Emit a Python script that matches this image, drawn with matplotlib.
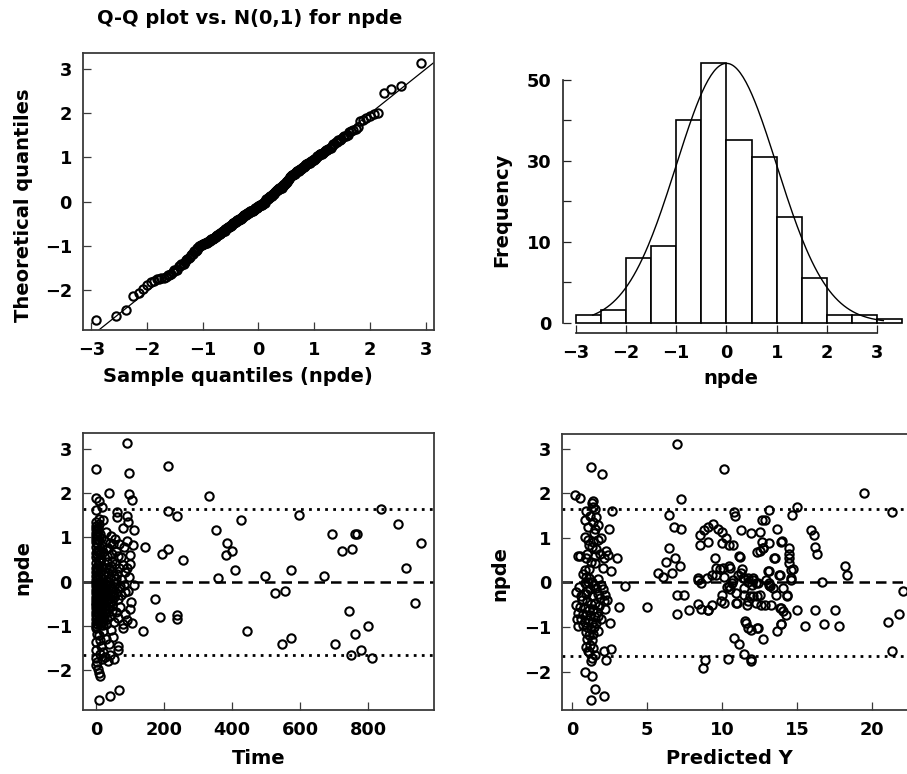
import numpy as np
import matplotlib
matplotlib.use("Agg")
import matplotlib.pyplot as plt
from statistics import NormalDist

plt.rcParams['font.family'] = ['DejaVu Sans']
W_BOLD = 'bold'
plt.rcParams['font.weight'] = W_BOLD

# ---------------- data ----------------
# (time, npde) for every observation
time_obs = [
    # sparse / readable points
    (92, 3.12), (97, 2.46), (213, 2.60), (0, 2.54), (37, 2.01), (97, 1.98), (107, 1.84),
    (333, 1.93), (61, 1.58), (92, 1.49), (213, 1.59), (239, 1.49), (426, 1.40), (598, 1.51),
    (838, 1.64), (887, 1.31), (112, 1.17), (352, 1.17), (693, 1.07), (762, 1.07), (768, 1.07),
    (956, 0.88), (144, 0.78), (193, 0.63), (213, 0.73), (257, 0.49), (384, 0.88), (382, 0.60),
    (401, 0.69), (409, 0.26), (725, 0.69), (752, 0.73), (573, 0.26), (913, 0.32), (359, 0.08),
    (497, 0.12), (671, 0.12), (527, -0.26), (555, -0.22), (175, -0.40), (939, -0.49),
    (743, -0.65), (188, -0.80), (237, -0.75), (237, -0.84), (138, -1.12), (445, -1.12),
    (799, -0.99), (762, -1.17), (546, -1.41), (573, -1.27), (704, -1.41), (750, -1.66),
    (779, -1.54), (811, -1.71), (10, -2.66), (42, -2.57), (69, -2.44),
    # early-time cluster
    (0, 1.88), (10, 1.83), (18, 1.68), (0, 1.62), (8, -2.05), (12, -2.12),
    (0, 1.02), (0, 1.10), (0, 1.18), (0, 1.26), (0, 1.34), (3, 1.05), (3, 1.15), (5, 1.22),
    (8, 1.30), (8, 1.42), (12, 1.08), (20, 1.38), (30, 1.12), (45, 1.02), (62, 1.45),
    (80, 1.20), (95, 1.35),
    (0, 0.55), (0, 0.65), (0, 0.78), (0, 0.90), (0, 0.97), (4, 0.60), (4, 0.85), (8, 0.72),
    (10, 0.95), (14, 0.52), (18, 0.80), (22, 0.66), (26, 0.92), (32, 0.58), (36, 0.75),
    (42, 0.88), (48, 0.62), (55, 0.97), (60, 0.70), (68, 0.85), (75, 0.55), (82, 0.78),
    (90, 0.92), (100, 0.60), (110, 0.82), (2, 0.70), (6, 0.93), (12, 0.62), (16, 0.98),
    (28, 0.74), (50, 0.84), (64, 0.58),
    (0, 0.03), (0, 0.12), (0, 0.22), (0, 0.32), (0, 0.42), (5, 0.07), (5, 0.18), (5, 0.28),
    (5, 0.38), (10, 0.48), (12, 0.10), (15, 0.25), (18, 0.35), (22, 0.05), (25, 0.15),
    (28, 0.30), (32, 0.45), (35, 0.20), (40, 0.08), (44, 0.35), (48, 0.25), (52, 0.12),
    (56, 0.40), (62, 0.18), (68, 0.30), (74, 0.05), (80, 0.38), (86, 0.22), (92, 0.32),
    (100, 0.40), (98, 0.10), (2, 0.27), (8, 0.44), (20, 0.17), (30, 0.02), (38, 0.30),
    (46, 0.47), (58, 0.06),
    (0, -0.03), (0, -0.10), (0, -0.18), (0, -0.26), (0, -0.34), (0, -0.42), (0, -0.48),
    (4, -0.06), (4, -0.15), (4, -0.24), (4, -0.33), (4, -0.44),
    (9, -0.02), (9, -0.12), (9, -0.22), (9, -0.38), (9, -0.47),
    (14, -0.08), (14, -0.18), (14, -0.30), (14, -0.41),
    (19, -0.04), (19, -0.14), (19, -0.27), (19, -0.45),
    (25, -0.10), (25, -0.22), (25, -0.36), (30, -0.05), (30, -0.30), (30, -0.46),
    (36, -0.16), (36, -0.40), (42, -0.08), (42, -0.28), (48, -0.20), (48, -0.44),
    (54, -0.12), (54, -0.34), (60, -0.03), (60, -0.25), (67, -0.15),
    (75, -0.30), (82, -0.08), (95, -0.20), (102, -0.45), (113, -0.07), (40, -0.48), (72, -0.10),
    (2, -0.21), (7, -0.29), (11, -0.07), (16, -0.37), (22, -0.19), (28, -0.41), (33, -0.26),
    (45, -0.14), (51, -0.31), (64, -0.38), (86, -0.24),
    (0, -0.52), (0, -0.60), (0, -0.68), (0, -0.76), (0, -0.84), (0, -0.92), (0, -0.99),
    (4, -0.55), (4, -0.65), (4, -0.80), (4, -0.95), (9, -0.58), (9, -0.72), (9, -0.88),
    (14, -0.53), (14, -0.66), (14, -0.82), (14, -0.97), (19, -0.60), (19, -0.75), (19, -0.90),
    (25, -0.56), (25, -0.85), (30, -0.70), (30, -0.95), (36, -0.62), (42, -0.78), (48, -0.55),
    (54, -0.90), (60, -0.68), (66, -0.82), (72, -0.58), (78, -0.95), (85, -0.72), (92, -0.86),
    (100, -0.62), (105, -0.92), (2, -0.88), (7, -0.62), (11, -0.93), (17, -0.71), (22, -0.98),
    (33, -0.83), (39, -0.54), (46, -0.67),
    (0, -1.05), (0, -1.35), (8, -1.20), (15, -1.45), (22, -1.10), (30, -1.30), (38, -1.40),
    (50, -1.25), (64, -1.45), (80, -1.05), (3, -1.18), (12, -1.32), (44, -1.08),
    (0, -1.55), (0, -1.72), (0, -1.88), (6, -1.96), (12, -1.62), (18, -1.75), (26, -1.70),
    (34, -1.78), (42, -1.66), (52, -1.74), (66, -1.55), (4, -1.80), (22, -1.58),
]

# (predicted Y, npde)
pred_obs = [
    (6.97, 3.11), (10.09, 2.55), (19.47, 2.01), (7.26, 1.87), (2.68, 1.60), (2.46, 1.21),
    (3.0, 0.54), (3.12, -0.55), (3.54, -0.09), (5.0, -0.55), (5.7, 0.21), (6.04, 0.12),
    (6.48, 1.51), (6.81, 1.25), (7.26, 1.21), (6.48, 0.78), (6.26, 0.45), (6.86, 0.54),
    (6.66, 0.21), (7.21, 0.36), (6.97, -0.28), (7.43, -0.28), (6.97, -0.70), (7.8, -0.61),
    (8.36, -0.48), (8.58, -0.59), (9.03, -0.62), (8.4, 0.10), (8.36, 0.06), (8.54, 0.84),
    (8.54, 1.06), (8.8, 1.17), (9.03, 1.25), (9.42, 1.32), (9.69, 1.21), (9.98, 1.14),
    (10.24, 0.99), (10.46, 0.84), (9.54, 0.54), (9.98, 0.88), (9.58, 0.17), (9.87, 0.30),
    (10.09, 0.13), (10.46, 0.36), (9.96, -0.28), (10.09, -0.46), (10.46, -0.07), (10.68, -0.01),
    (10.8, 1.58), (11.28, 1.17), (11.13, 0.60), (11.35, 0.30), (11.46, 0.10), (10.9, -0.24),
    (10.97, -0.46), (11.46, -0.28), (11.68, -0.50), (11.9, 1.10), (12.08, 0.10), (12.23, -0.01),
    (11.86, -0.31), (12.35, -0.31), (12.57, -0.50), (12.0, -0.05), (12.52, 1.14), (12.68, 1.40),
    (12.68, 0.91), (12.35, 0.69), (12.74, 0.77), (13.12, 1.62), (13.12, 0.88), (13.05, 0.25),
    (13.12, -0.01), (13.19, -0.09), (13.45, 0.54), (13.56, -0.28), (13.67, 1.21), (13.9, 0.91),
    (13.78, 0.16), (13.9, -0.57), (14.07, -0.13), (14.34, -0.28), (14.45, 0.77), (14.45, 0.65),
    (14.45, 0.54), (14.45, 0.43), (14.6, 0.28), (14.56, 0.10), (14.67, 1.51), (14.96, 1.70),
    (14.96, -0.61), (14.26, -0.72), (13.9, -0.94), (13.63, -1.09), (12.75, -1.28), (12.35, -1.02),
    (11.9, -1.06), (11.57, -0.91), (10.8, -1.24), (11.13, -1.39), (11.42, -1.60), (11.9, -1.72),
    (10.39, -1.71), (8.84, -1.75), (8.73, -1.91), (15.55, -0.98), (16.2, -0.61), (16.8, -0.93),
    (17.5, -0.61), (17.8, -0.98), (16.66, 0.02), (15.93, 1.17), (16.1, 1.06), (16.2, 0.80),
    (16.33, 0.63), (18.2, 0.36), (18.3, 0.17), (21.3, 1.58), (21.08, -0.88), (21.79, -0.70),
    (22.04, -0.19), (21.3, -1.54), (10.3, -0.10), (10.55, -0.14), (10.75, 0.05), (11.24, 0.21),
    (11.42, -0.13), (11.7, 0.02), (11.06, 0.17), (11.39, 0.10), (11.72, 0.10), (12.05, 0.06),
    (12.39, -0.01), (12.93, 0.06), (13.15, -0.05), (13.37, -0.13), (13.15, 0.26), (13.88, 0.16),
    (14.58, 0.06), (14.7, 0.30), (13.53, 0.56), (11.17, 0.58), (10.72, 0.84), (12.71, 0.77),
    (12.49, 0.71), (9.62, 0.32), (10.06, 0.32), (10.5, 0.32), (9.95, -0.42), (10.94, -0.46),
    (11.72, -0.42), (12.05, -0.31), (12.27, -0.46), (12.55, -0.28), (12.82, -0.50), (13.26, -0.50),
    (13.82, -0.57), (14.04, -0.65), (14.33, -0.31), (11.5, -0.87), (11.72, -1.02), (12.38, -1.02),
    (13.93, -0.93), (11.94, -1.76), (9.0, 0.10), (9.3, 0.17), (8.6, -0.01), (9.29, -0.50),
    (9.06, -0.61), (10.83, 1.49), (12.82, 1.40), (13.97, 0.93), (9.06, 0.91),
    # low-prediction cluster
    (1.28, 2.60), (1.99, 2.44), (0.22, 1.97), (0.51, 1.90), (1.39, 1.83), (1.33, 1.78),
    (0.95, 1.61), (1.5, 1.64), (0.84, 1.40), (1.39, 1.36), (1.5, 1.21), (0.88, 1.03),
    (1.06, 0.95), (1.39, 0.91), (1.73, 0.95), (1.9, 1.00), (1.33, 0.80), (0.4, 0.60),
    (0.51, 0.60), (1.02, 0.63), (1.5, 0.60), (1.84, 0.63), (2.39, 0.62), (1.5, 0.43),
    (2.06, 0.32), (2.61, 0.25), (0.88, 0.28), (0.95, 0.13), (1.06, 0.02), (0.84, -0.01),
    (0.29, -0.22), (1.02, -0.20), (2.17, -0.28), (2.12, -0.41), (0.29, -0.50), (0.40, -0.68),
    (0.35, -0.83), (0.40, -0.98), (1.95, -0.83), (0.95, -1.46), (1.06, -1.54), (1.28, -1.76),
    (2.12, -1.54), (2.61, -1.50), (2.28, -1.75), (0.84, -2.02), (1.33, -2.10), (1.55, -2.39),
    (2.12, -2.56), (1.28, -2.64),
    (0.75, 0.18), (1.15, 0.10), (1.30, 0.00), (1.45, -0.05), (1.60, -0.12), (1.20, -0.15),
    (0.90, -0.25), (1.35, -0.30), (1.70, -0.25), (1.85, -0.35), (0.65, -0.40), (1.00, -0.42),
    (1.25, -0.48), (1.55, -0.45), (1.80, -0.52), (0.55, -0.55), (0.85, -0.58), (1.10, -0.62),
    (1.40, -0.60), (1.65, -0.66), (0.70, -0.70), (0.95, -0.74), (1.20, -0.72), (1.50, -0.78),
    (1.75, -0.75), (0.60, -0.82), (0.85, -0.88), (1.05, -0.85), (1.30, -0.90), (1.60, -0.92),
    (0.75, -0.96), (1.00, -1.00), (1.25, -1.04), (1.45, -1.00), (1.70, -1.08), (0.90, -1.12),
    (1.15, -1.18), (1.40, -1.15), (1.00, -1.26), (1.30, -1.30), (1.20, -1.40), (1.40, -1.48),
    (1.10, -1.56), (1.50, -1.62), (1.35, -1.70), (0.60, -0.30), (0.45, -0.10), (1.75, 0.08),
    (1.90, -0.05), (2.05, -0.15), (2.20, -0.60), (2.35, -0.40), (2.50, -0.90), (1.10, 0.30),
    (1.25, 0.45), (0.95, 0.55), (1.60, 0.75), (1.15, 0.85), (1.45, 1.10), (1.05, 1.25),
    (1.70, 1.30), (1.20, 1.50), (1.40, 1.70), (1.60, 1.48), (2.10, 0.55), (2.25, 0.70),
]

hist_edges = [-3.0, -2.5, -2.0, -1.5, -1.0, -0.5, 0.0, 0.5, 1.0, 1.5, 2.0, 2.5, 3.0, 3.5]
hist_xticks = [-3, -2, -1, 0, 1, 2, 3]
freq_ticks = [0, 10, 20, 30, 40, 50, 60]
freq_labels = ['0', '', '10', '', '30', '', '50']
npde_ticks = [-2, -1, 0, 1, 2, 3]
time_ticks = [0, 200, 400, 600, 800]
pred_ticks = [0, 5, 10, 15, 20]
pi_bound = 1.645

t_arr = np.array([p[0] for p in time_obs])
npde = np.array([p[1] for p in time_obs])
p_arr = np.array([p[0] for p in pred_obs])
p_npde = np.array([p[1] for p in pred_obs])

# ---------------- figure ----------------
W, H = 907, 774
fig = plt.figure(figsize=(W / 100, H / 100), dpi=100)

def rect(l, t, r, b):
    return [l / W, 1 - b / H, (r - l) / W, (b - t) / H]

ax_qq = fig.add_axes(rect(83, 53, 434, 330))
ax_hi = fig.add_axes(rect(562.6, 53, 915.5, 333))
ax_t = fig.add_axes(rect(83, 433, 434, 710))
ax_p = fig.add_axes(rect(562.3, 433.7, 916, 710.3))

TICK_FS = 12.8
LAB_FS = 14
frame_col = '#3a3a3a'
mk = dict(marker='o', ms=6, mfc='none', mec='black', mew=1.5, ls='none')

def style_box(ax):
    for s in ax.spines.values():
        s.set_color(frame_col)
        s.set_linewidth(1.3)
    ax.tick_params(direction='in', length=6, width=0.9, color=frame_col,
                   labelsize=TICK_FS, pad=8)
    for lab in ax.get_xticklabels() + ax.get_yticklabels():
        lab.set_fontweight(W_BOLD)

# --- Q-Q plot ---
n = len(npde)
nd = NormalDist()
theo = np.array([nd.inv_cdf((i + 0.5) / n) for i in range(n)])
samp = np.sort(npde)
ax_qq.plot(theo, samp, **mk)
q1, q3 = np.percentile(npde, [25, 75])
x1, x3 = nd.inv_cdf(0.25), nd.inv_cdf(0.75)
slope = (q3 - q1) / (x3 - x1)
ax_qq.axline((x1, q1), slope=slope, color='black', lw=0.9)
ax_qq.margins(0.04)
ax_qq.set_xticks(hist_xticks)
ax_qq.set_yticks(npde_ticks)
style_box(ax_qq)
ax_qq.set_xlabel('Sample quantiles (npde)', fontsize=LAB_FS, fontweight=W_BOLD)
ax_qq.set_ylabel('Theoretical quantiles', fontsize=LAB_FS, fontweight=W_BOLD)
ax_qq.xaxis.set_label_coords(0.44, -0.135)
ax_qq.yaxis.set_label_coords(-0.142, 0.45)
fig.text(250 / W, 1 - 19 / H, 'Q-Q plot vs. N(0,1) for npde', ha='center', va='center',
         fontsize=14, fontweight=W_BOLD)

# --- histogram ---
counts, edges, patches = ax_hi.hist(npde, bins=hist_edges, facecolor='white',
                                    edgecolor='black', linewidth=1.2)
xpl = np.linspace(npde.min(), npde.max(), 200)
ypl = np.exp(-xpl ** 2 / 2)
ypl = ypl / ypl.max() * counts.max()
ax_hi.plot(xpl, ypl, color='black', lw=1.0)
ax_hi.use_sticky_edges = False
ax_hi.margins(0.04)
ax_hi.spines['top'].set_visible(False)
ax_hi.spines['right'].set_visible(False)
ax_hi.spines['bottom'].set_bounds(hist_xticks[0], hist_xticks[-1])
ax_hi.spines['left'].set_bounds(freq_ticks[0], freq_ticks[-1])
ax_hi.set_xticks(hist_xticks)
ax_hi.set_yticks(freq_ticks)
ax_hi.set_yticklabels(freq_labels)
for s in ('bottom', 'left'):
    ax_hi.spines[s].set_color('#222222')
    ax_hi.spines[s].set_linewidth(1.2)
ax_hi.tick_params(direction='in', length=6, width=0.9, color='#222222',
                  labelsize=TICK_FS, pad=8)
for lab in ax_hi.get_xticklabels() + ax_hi.get_yticklabels():
    lab.set_fontweight(W_BOLD)
ax_hi.set_xlabel('npde', fontsize=LAB_FS, fontweight=W_BOLD)
ax_hi.set_ylabel('Frequency', fontsize=LAB_FS, fontweight=W_BOLD)
ax_hi.xaxis.set_label_coords(0.477, -0.13)
ax_hi.yaxis.set_label_coords(-0.146, 0.44)

# --- npde vs time / predicted ---
def resid_panel(ax, x, y, xticks, xlabel, lx, ly_x, ly_y):
    ax.axhline(0, color='black', lw=1.8, ls=(0, (4.2, 2.4)), zorder=1)
    ax.axhline(pi_bound, color='black', lw=2.0, ls=(0, (1, 1.9)), zorder=1)
    ax.axhline(-pi_bound, color='black', lw=2.0, ls=(0, (1, 1.9)), zorder=1)
    ax.plot(x, y, zorder=3, **mk)
    ax.margins(0.04)
    ax.set_xticks(xticks)
    ax.set_yticks(npde_ticks)
    style_box(ax)
    ax.set_xlabel(xlabel, fontsize=LAB_FS, fontweight=W_BOLD)
    ax.set_ylabel('npde', fontsize=LAB_FS, fontweight=W_BOLD)
    ax.xaxis.set_label_coords(lx, -0.14)
    ax.yaxis.set_label_coords(ly_x, ly_y)

resid_panel(ax_t, t_arr, npde, time_ticks, 'Time', 0.5, -0.143, 0.515)
resid_panel(ax_p, p_arr, p_npde, pred_ticks, 'Predicted Y', 0.471, -0.151, 0.495)

fig.savefig('out.png', dpi=100)
